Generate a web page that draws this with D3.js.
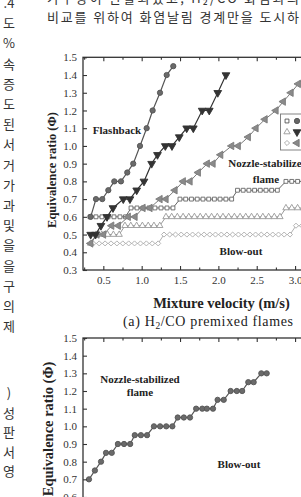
<!DOCTYPE html>
<html><head><meta charset="utf-8">
<script src="https://cdn.jsdelivr.net/npm/d3@7"></script>
<style>body{margin:0;background:#fff;overflow:hidden}svg{display:block}</style>
</head><body>
<script>
// ---------- page text ----------
const pageLine1 = "가우항이 관찰되었고, H₂/CO 화염과의";
const pageLine2 = "비교를 위하여 화염날림 경계만을 도시하";
const leftColumn = [".4","도","%","속","증","도","된","서","거","가","과","및","을","을","구","의","제"];
const leftColumn2 = [")","성","판","서","영"];

// ---------- chart text ----------
const xTicks = [0.5, 1.0, 1.5, 2.0, 2.5, 3.0];
const xMinor = [0.25, 0.75, 1.25, 1.75, 2.25, 2.75];
const yTicks = [0.3, 0.4, 0.5, 0.6, 0.7, 0.8, 0.9, 1.0, 1.1, 1.2, 1.3, 1.4, 1.5];
const xTitle = "Mixture velocity (m/s)";
const yTitle = "Equivalence ratio (Φ)";

// ---------- (a) H2/CO series ----------
const aV   = [0.335,0.404,0.486,0.565,0.643,0.73,0.812,0.89,0.978,1.065,1.143,1.239,1.326,1.412];
const aPhi = [0.6,0.7,0.7,0.75,0.8,0.8,0.85,0.9,1.0,1.1,1.2,1.3,1.4,1.45];

const bV   = [0.335,0.398,0.469,0.548,0.626,0.76,0.847,0.935,1.03,1.13,1.206,1.308,1.395,1.49,1.587,1.673,1.789,1.881,1.992,2.099];
const bPhi = [0.5,0.5,0.55,0.6,0.65,0.7,0.7,0.75,0.8,0.9,0.95,1.0,1.0,1.05,1.1,1.1,1.2,1.2,1.3,1.4];

const cV   = [0.335,0.417,0.502,0.609,0.695,0.825,0.913,1.017,1.108,1.239,1.317,1.434,1.542,1.63,1.738,1.855,1.93,2.03,2.173,2.259,2.39,2.49,2.608,2.751,2.846,2.947,3.042,3.142];
const cPhi = [0.45,0.5,0.5,0.55,0.55,0.6,0.6,0.65,0.65,0.7,0.7,0.75,0.8,0.8,0.85,0.9,0.9,0.95,1.0,1.0,1.05,1.1,1.15,1.2,1.25,1.3,1.35,1.4];

const dV   = [0.326,0.404,0.482,0.561,0.639,0.717,0.789,
              0.861,0.939,1.017,1.095,1.173,1.252,1.330,1.408,
              1.499,1.574,1.649,1.724,1.799,1.874,1.948,2.022,2.098,2.173,
              2.249,2.323,2.398,2.472,2.546,2.621,2.695,2.769,
              2.881,2.957,3.033,3.108];
const dPhi = [0.6,0.6,0.6,0.6,0.6,0.6,0.6,
              0.65,0.65,0.65,0.65,0.65,0.65,0.65,0.65,
              0.7,0.7,0.7,0.7,0.7,0.7,0.7,0.7,0.7,0.7,
              0.75,0.75,0.75,0.75,0.75,0.75,0.75,0.75,
              0.8,0.8,0.8,0.8];

const eV   = [0.335,
              0.404,0.480,0.555,0.631,0.707,
              0.782,0.858,0.934,1.009,1.085,1.160,1.236,
              1.317,1.391,1.465,1.540,1.614,1.688,1.763,1.837,1.911,1.986,2.060,2.134,2.209,2.283,2.357,2.432,2.506,2.580,2.655,2.729,2.803,
              2.881,2.957,3.033,3.108];
const ePhi = [0.45,
              0.5,0.5,0.5,0.5,0.5,
              0.55,0.55,0.55,0.55,0.55,0.55,0.55,
              0.6,0.6,0.6,0.6,0.6,0.6,0.6,0.6,0.6,0.6,0.6,0.6,0.6,0.6,0.6,0.6,0.6,0.6,0.6,0.6,0.6,
              0.65,0.65,0.65,0.65];

const fV   = [0.369,0.446,0.523,0.600,0.677,0.754,0.831,0.907,0.984,1.061,1.138,1.215,
              1.291,1.365,1.441,1.515,1.589,1.664,1.739,1.814,1.888,1.962,2.038,2.112,2.186,2.261,2.336,2.411,2.485,2.559,2.635,2.709,2.784,2.858,2.934,
              3.012,3.090];
const fPhi = [0.45,0.45,0.45,0.45,0.45,0.45,0.45,0.45,0.45,0.45,0.45,0.45,
              0.5,0.5,0.5,0.5,0.5,0.5,0.5,0.5,0.5,0.5,0.5,0.5,0.5,0.5,0.5,0.5,0.5,0.5,0.5,0.5,0.5,0.5,0.5,
              0.55,0.55];

// ---------- (b) series ----------
const gV   = [0.313,0.39,0.47,0.535,0.61,0.69,0.77,0.85,0.91,0.99,1.07,1.16,1.24,1.32,1.40,1.47,1.55,1.63,1.71,1.79,1.85,1.93,1.99,2.07,2.16,2.24,2.31,2.39,2.46,2.56,2.63];
const gPhi = [0.7,0.75,0.8,0.85,0.85,0.9,0.9,0.9,0.95,0.95,0.95,1.0,1.0,1.0,1.0,1.05,1.05,1.05,1.1,1.1,1.1,1.1,1.15,1.15,1.2,1.2,1.2,1.25,1.25,1.3,1.3];

// ---------- drawing ----------
const W = 301, H = 497;
const svg = d3.select("body").append("svg").attr("width", W).attr("height", H);
const serif = "'Liberation Serif','Times New Roman',serif";
const kr = "'Noto Sans CJK KR','Noto Sans',sans-serif";

// page text
svg.append("text").attr("x", 47).attr("y", 3).attr("font-family", kr).attr("font-size", 13)
  .attr("fill", "#333").attr("textLength", 252).attr("lengthAdjust", "spacing").text(pageLine1);
svg.append("text").attr("x", 47).attr("y", 22).attr("font-family", kr).attr("font-size", 13)
  .attr("fill", "#333").attr("textLength", 252).attr("lengthAdjust", "spacing").text(pageLine2);
svg.append("g").selectAll("text").data(leftColumn).join("text")
  .attr("x", 9).attr("y", (d, i) => 8 + i * 20.2).attr("text-anchor", "middle")
  .attr("font-family", kr).attr("font-size", 13).attr("fill", "#333").text(d => d);
svg.append("g").selectAll("text").data(leftColumn2).join("text")
  .attr("x", 9).attr("y", (d, i) => 398 + i * 19.5).attr("text-anchor", "middle")
  .attr("font-family", kr).attr("font-size", 13).attr("fill", "#333").text(d => d);

const x = d3.scaleLinear().domain([0.235, 3.15]).range([83, 83 + (3.15 - 0.235) * 76.7]);

function frame(g, y) {
  const [x0, x1] = x.range(), [y0, y1] = y.range();
  g.append("rect").attr("x", x0).attr("y", y1).attr("width", x1 - x0).attr("height", y0 - y1)
    .attr("fill", "none").attr("stroke", "#333").attr("stroke-width", 1.3);
  const tf = g => g.selectAll(".domain").remove();
  g.append("g").attr("transform", `translate(0,${y0})`)
    .call(d3.axisBottom(x).tickValues(xTicks).tickSizeInner(-4).tickSizeOuter(0).tickPadding(6).tickFormat(d3.format(".1f"))).call(tf);
  g.append("g").attr("transform", `translate(0,${y0})`)
    .call(d3.axisBottom(x).tickValues(xMinor).tickSizeInner(-2.5).tickSizeOuter(0).tickFormat("")).call(tf);
  g.append("g").attr("transform", `translate(0,${y1})`)
    .call(d3.axisTop(x).tickValues(xTicks).tickSizeInner(-4).tickSizeOuter(0).tickFormat("")).call(tf);
  g.append("g").attr("transform", `translate(0,${y1})`)
    .call(d3.axisTop(x).tickValues(xMinor).tickSizeInner(-2.5).tickSizeOuter(0).tickFormat("")).call(tf);
  g.append("g").attr("transform", `translate(${x0},0)`)
    .call(d3.axisLeft(y).tickValues(yTicks).tickSizeInner(-4).tickSizeOuter(0).tickPadding(6).tickFormat(d3.format(".1f"))).call(tf);
  g.selectAll(".tick line").attr("stroke", "#333").attr("stroke-width", 1.1);
  g.selectAll(".tick text").attr("font-family", serif).attr("font-size", 11).attr("fill", "#333");
}

function series(g, y, xs, ys, o) {
  const pts = xs.map((v, i) => [v, ys[i]]);
  g.append("path").attr("d", d3.line().x(d => x(d[0])).y(d => y(d[1]))(pts))
    .attr("fill", "none").attr("stroke", o.stroke).attr("stroke-width", o.lw || 1);
  g.append("g").selectAll("path").data(pts).join("path")
    .attr("d", d3.symbol().type(o.type).size(o.size))
    .attr("transform", d => `translate(${x(d[0])},${y(d[1])}) rotate(${o.rot || 0})`)
    .attr("fill", o.fill).attr("stroke", o.stroke).attr("stroke-width", 0.9);
}

// ---- top chart ----
const yA = d3.scaleLinear().domain([0.3, 1.5]).range([270, 57.3]);
const gA = svg.append("g");
svg.append("clipPath").attr("id", "clipA").append("rect")
  .attr("x", 83).attr("y", 57.3).attr("width", 240).attr("height", 212.7);
const gD = gA.append("g").attr("clip-path", "url(#clipA)");

series(gD, yA, fV, fPhi, {type: d3.symbolSquare, size: 13, rot: 45, fill: "#fff", stroke: "#b0b0b0"});
series(gD, yA, eV, ePhi, {type: d3.symbolTriangle, size: 17, fill: "#fff", stroke: "#999"});
series(gD, yA, dV, dPhi, {type: d3.symbolSquare, size: 15, fill: "#fff", stroke: "#666"});
series(gD, yA, cV, cPhi, {type: d3.symbolTriangle, size: 24, rot: -90, fill: "#8a8a8a", stroke: "#7a7a7a"});
series(gD, yA, bV, bPhi, {type: d3.symbolTriangle, size: 26, rot: 180, fill: "#333", stroke: "#333", lw: 1.2});
series(gD, yA, aV, aPhi, {type: d3.symbolCircle, size: 22, fill: "#6a6a6a", stroke: "#555", lw: 1.2});
frame(gA, yA);

// legend (cut at right edge)
const leg = gA.append("g");
leg.append("rect").attr("x", 280.5).attr("y", 114).attr("width", 40).attr("height", 36)
  .attr("fill", "#fff").attr("stroke", "#777").attr("stroke-width", 0.9);
const legRows = [
  [{type: d3.symbolSquare, size: 15, fill: "#fff", stroke: "#555"}, {type: d3.symbolCircle, size: 22, fill: "#666", stroke: "#555"}],
  [{type: d3.symbolTriangle, size: 17, fill: "#fff", stroke: "#999"}, {type: d3.symbolTriangle, size: 26, rot: 180, fill: "#333", stroke: "#333"}],
  [{type: d3.symbolSquare, size: 13, rot: 45, fill: "#fff", stroke: "#aaa"}, {type: d3.symbolTriangle, size: 24, rot: -90, fill: "#888", stroke: "#777"}]
];
legRows.forEach((row, i) => row.forEach((o, j) => {
  leg.append("path").attr("d", d3.symbol().type(o.type).size(o.size)())
    .attr("transform", `translate(${287 + j * 10},${121 + i * 11}) rotate(${o.rot || 0})`)
    .attr("fill", o.fill).attr("stroke", o.stroke).attr("stroke-width", 0.9);
}));

const lbl = (g, t, xx, yy, size, weight, anchor) => g.append("text").attr("x", xx).attr("y", yy)
  .attr("font-family", serif).attr("font-size", size).attr("font-weight", weight || "bold")
  .attr("text-anchor", anchor || "middle").attr("fill", "#222").text(t);

lbl(gA, "Flashback", 117, 134, 11);
lbl(gA, "Nozzle-stabilized", 268, 167, 11);
lbl(gA, "flame", 266, 183, 11);
lbl(gA, "Blow-out", 241, 255, 11);
lbl(gA, xTitle, 221.5, 308, 14.5);
svg.append("text").attr("transform", "translate(56,170) rotate(-90)").attr("text-anchor", "middle")
  .attr("font-family", serif).attr("font-size", 12.5).attr("font-weight", "bold").attr("fill", "#222").text(yTitle);

// caption
const cap = svg.append("text").attr("x", 123).attr("y", 326).attr("font-family", serif)
  .attr("font-size", 14).attr("fill", "#222").attr("textLength", 170).attr("lengthAdjust", "spacing");
cap.append("tspan").text("(a)  H");
cap.append("tspan").attr("font-size", 9.5).attr("dy", 3).text("2");
cap.append("tspan").attr("dy", -3).text("/CO  premixed  flames");

// ---- bottom chart ----
const yB = d3.scaleLinear().domain([0.3, 1.5]).range([550, 338]);
const gB = svg.append("g");
series(gB, yB, gV, gPhi, {type: d3.symbolCircle, size: 22, fill: "#6a6a6a", stroke: "#555", lw: 1.2});
frame(gB, yB);
lbl(gB, "Nozzle-stabilized", 140, 383, 11);
lbl(gB, "flame", 140, 396, 11);
lbl(gB, "Blow-out", 239, 468, 11);
svg.append("text").attr("transform", "translate(53,429) rotate(-90)").attr("text-anchor", "middle")
  .attr("font-family", serif).attr("font-size", 14.5).attr("font-weight", "bold").attr("fill", "#222").text(yTitle);
</script>
</body></html>
